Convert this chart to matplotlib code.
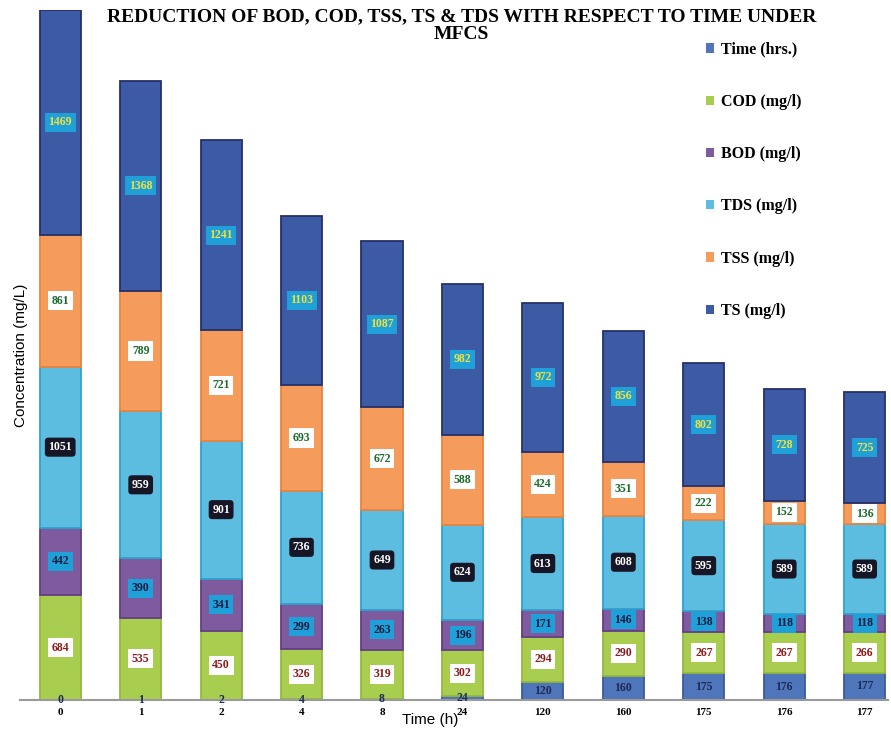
import numpy as np
import matplotlib.pyplot as plt

# hours sampled and the stacked parameters (mg/l)
hours = ["0", "1", "2", "4", "8", "24", "120", "160", "175", "176", "177"]
time_hrs = [0, 1, 2, 4, 8, 24, 120, 160, 175, 176, 177]
cod = [684, 535, 450, 326, 319, 302, 294, 290, 267, 267, 266]
bod = [442, 390, 341, 299, 263, 196, 171, 146, 138, 118, 118]
tds = [1051, 959, 901, 736, 649, 624, 613, 608, 595, 589, 589]
tss = [861, 789, 721, 693, 672, 588, 424, 351, 222, 152, 136]
ts = [1469, 1368, 1241, 1103, 1087, 982, 972, 856, 802, 728, 725]

serif = "Liberation Serif"
sans = "Liberation Sans"

# name, values, fill, edge, label text colour, label box (None = no box), box style
series = [
    ("Time (hrs.)", time_hrs, "#4f76bb", "#3a5a99", "#1e2a55", None, "square"),
    ("COD (mg/l)", cod, "#a8cd4f", "#93b83e", "#8b1a1a", "white", "square"),
    ("BOD (mg/l)", bod, "#7e5a9e", "#643f86", "#141c40", "#1fa0d8", "square"),
    ("TDS (mg/l)", tds, "#5dbde0", "#2fa2d0", "white", "#161626", "round"),
    ("TSS (mg/l)", tss, "#f59b5c", "#e9843f", "#1c6b2c", "white", "square"),
    ("TS (mg/l)", ts, "#3d5ba4", "#26306b", "#f2e23a", "#1fa0d8", "square"),
]

fig = plt.figure(figsize=(8.91, 7.33), dpi=100)
ax = fig.add_axes([20 / 891, 33 / 733, 868 / 891, 690 / 733])

x = np.arange(len(hours))
bottom = np.zeros(len(hours))
for name, vals, fill, edge, tcol, box, style in series:
    vals = np.array(vals, dtype=float)
    ax.bar(x, vals, width=0.51, bottom=bottom, color=fill, edgecolor=edge,
           linewidth=1.3, label=name, zorder=2)
    for xi, b, v in zip(x, bottom, vals):
        kw = dict(ha="center", va="center", fontsize=8.5, fontweight="bold",
                  family=serif, color=tcol, zorder=4)
        if box is not None:
            kw["bbox"] = dict(boxstyle=style + ",pad=0.3", fc=box, ec="none")
        ax.text(xi, b + v / 2, f"{int(v)}", **kw)
    bottom += vals

ax.set_xlim(-0.5, 10.29)
ax.set_ylim(0, 4507)
ax.set_xticks(x)
ax.set_xticklabels(hours, fontfamily=serif, fontweight="bold", fontsize=8)
ax.tick_params(axis="x", length=0, pad=6)
ax.set_yticks([])
for s in ["top", "right", "left"]:
    ax.spines[s].set_visible(False)
ax.spines["bottom"].set_color("#9a9a9a")
ax.spines["bottom"].set_linewidth(1.5)

ax.set_ylabel("Concentration (mg/L)", fontfamily=sans, fontsize=11, labelpad=-6)
ax.set_xlabel("Time (h)", fontfamily=sans, fontsize=11)
ax.xaxis.set_label_coords(0.472, -0.019)

# two-line title, placed by baseline
title_kw = dict(ha="center", va="baseline", fontfamily=serif, fontweight="bold", fontsize=14)
fig.text(0.518, 1 - 21 / 733, "REDUCTION OF BOD, COD, TSS, TS & TDS WITH RESPECT TO TIME UNDER", **title_kw)
fig.text(0.518, 1 - 39 / 733, "MFCS", **title_kw)

leg = ax.legend(loc="upper left", bbox_to_anchor=(0.774, 0.975), frameon=False,
                prop=dict(family=serif, weight="bold", size=11.5),
                handlelength=0.5, handleheight=0.5, handletextpad=0.4,
                labelspacing=2.27)
for h in leg.legend_handles:
    h.set_linewidth(0)

fig.savefig("out.png", dpi=100, facecolor="white")
